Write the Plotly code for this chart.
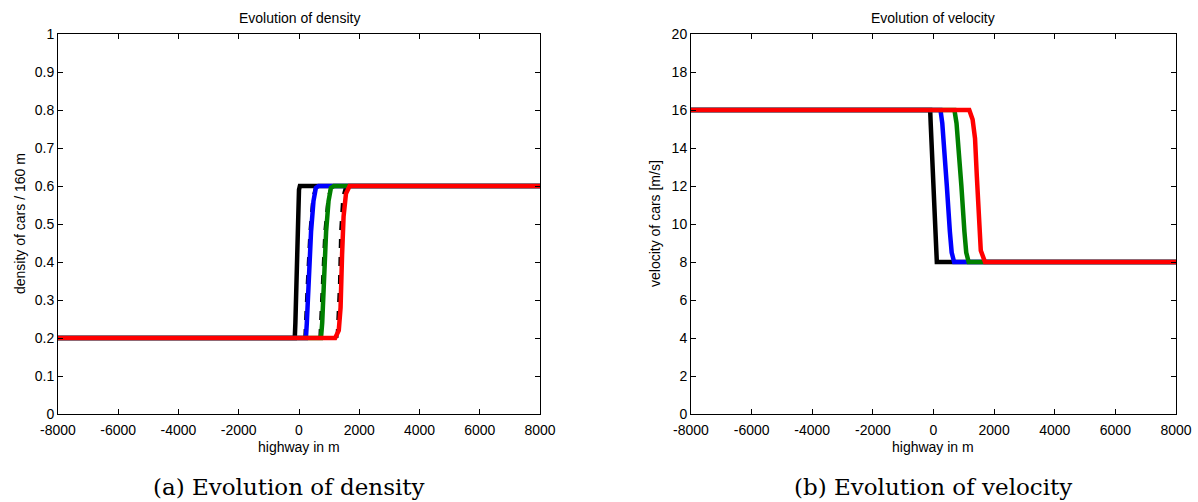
import plotly.graph_objects as go

# ---- density profiles (cars / 160 m) at four successive times ----
dens_black_x = [-8000, -140, -120, -90, -40, 0, 30, 8000]
dens_black_y = [0.2, 0.2, 0.24, 0.35, 0.52, 0.59, 0.6, 0.6]
dens_blue_x = [-8000, 230, 260, 300, 400, 480, 560, 650, 8000]
dens_blue_y = [0.2, 0.2, 0.24, 0.32, 0.48, 0.56, 0.595, 0.6, 0.6]
dens_green_x = [-8000, 730, 770, 810, 900, 980, 1060, 1160, 8000]
dens_green_y = [0.2, 0.2, 0.24, 0.32, 0.48, 0.56, 0.595, 0.6, 0.6]
dens_red_x = [-8000, 1200, 1320, 1380, 1430, 1480, 1560, 1680, 8000]
dens_red_y = [0.2, 0.2, 0.22, 0.28, 0.42, 0.52, 0.58, 0.6, 0.6]

# reference fronts drawn in black, dashed, beneath the coloured profiles
ref_blue_x = [190, 220, 270, 360, 460, 560]
ref_blue_y = [0.2, 0.26, 0.34, 0.48, 0.57, 0.6]
ref_green_x = [690, 725, 765, 855, 965, 1075]
ref_green_y = [0.2, 0.26, 0.34, 0.48, 0.57, 0.6]
ref_red_x = [1260, 1300, 1340, 1380, 1450, 1550]
ref_red_y = [0.2, 0.26, 0.34, 0.48, 0.57, 0.6]

# ---- velocity profiles (m/s) at the same times ----
vel_black_x = [-8000, -110, -90, -40, 20, 80, 110, 8000]
vel_black_y = [16, 16, 15.2, 13.0, 10.5, 8.4, 8, 8]
vel_blue_x = [-8000, 230, 290, 360, 440, 540, 600, 680, 8000]
vel_blue_y = [16, 16, 15.3, 14.0, 12.0, 9.6, 8.5, 8, 8]
vel_green_x = [-8000, 690, 760, 830, 920, 1020, 1080, 1160, 8000]
vel_green_y = [16, 16, 15.3, 14.0, 12.0, 9.6, 8.5, 8, 8]
vel_red_x = [-8000, 1180, 1290, 1370, 1430, 1490, 1560, 1700, 8000]
vel_red_y = [16, 16, 15.5, 14.5, 12.5, 10.0, 8.6, 8, 8]

x_ticks = [-8000, -6000, -4000, -2000, 0, 2000, 4000, 6000, 8000]
dens_ticks = [0, 0.1, 0.2, 0.3, 0.4, 0.5, 0.6, 0.7, 0.8, 0.9, 1]
dens_tick_text = ["0", "0.1", "0.2", "0.3", "0.4", "0.5", "0.6", "0.7", "0.8", "0.9", "1"]
vel_ticks = [0, 2, 4, 6, 8, 10, 12, 14, 16, 18, 20]

LW = 4.5
colors = {"black": "#000000", "blue": "#0000FF", "green": "#008000", "red": "#FF0000"}

fig = go.Figure()

def add(x, y, color, xa, ya, dash="solid", width=LW):
    fig.add_trace(go.Scatter(x=x, y=y, mode="lines", xaxis=xa, yaxis=ya,
                             line=dict(color=color, width=width, dash=dash),
                             showlegend=False, hoverinfo="skip"))

# density panel
add(dens_black_x, dens_black_y, colors["black"], "x", "y")
add(ref_blue_x, ref_blue_y, colors["black"], "x", "y", dash="dash", width=3)
add(ref_green_x, ref_green_y, colors["black"], "x", "y", dash="dash", width=3)
add(ref_red_x, ref_red_y, colors["black"], "x", "y", dash="dash", width=3)
add(dens_blue_x, dens_blue_y, colors["blue"], "x", "y")
add(dens_green_x, dens_green_y, colors["green"], "x", "y")
add(dens_red_x, dens_red_y, colors["red"], "x", "y")

# velocity panel
add(vel_black_x, vel_black_y, colors["black"], "x2", "y2")
add(vel_blue_x, vel_blue_y, colors["blue"], "x2", "y2")
add(vel_green_x, vel_green_y, colors["green"], "x2", "y2")
add(vel_red_x, vel_red_y, colors["red"], "x2", "y2")

W, H = 1198, 502
tick_font = dict(family="Liberation Sans, Arial", size=14, color="#000000")

def xaxis(domain, anchor):
    return dict(domain=domain, anchor=anchor, range=[-8000, 8000], tickvals=x_ticks,
                ticktext=[str(v) for v in x_ticks], ticks="inside", ticklen=5,
                tickcolor="black", showline=True, linecolor="black", linewidth=1,
                mirror="ticks", showgrid=False, zeroline=False, tickfont=tick_font,
                automargin=False, ticklabelstandoff=3)

def yaxis(domain, anchor, rng, vals, text):
    return dict(domain=domain, anchor=anchor, range=rng, tickvals=vals, ticktext=text,
                ticks="inside", ticklen=5, tickcolor="black", showline=True,
                linecolor="black", linewidth=1, mirror="ticks", showgrid=False,
                zeroline=False, tickfont=tick_font, automargin=False)

yd = [(H - 414) / H, (H - 34) / H]
xd1 = [58 / W, 540 / W]
xd2 = [691 / W, 1176 / W]

fig.update_layout(
    width=W, height=H, margin=dict(l=0, r=0, t=0, b=0),
    paper_bgcolor="white", plot_bgcolor="white",
    xaxis=xaxis(xd1, "y"),
    yaxis=yaxis(yd, "x", [0, 1], dens_ticks, dens_tick_text),
    xaxis2=xaxis(xd2, "y2"),
    yaxis2=yaxis(yd, "x2", [0, 20], vel_ticks, [str(v) for v in vel_ticks]),
)

lab_font = dict(family="Liberation Sans, Arial", size=14, color="#000000")
cap_font = dict(family="DejaVu Serif", size=23, color="#000000")

def ann(text, x, y, font, angle=0):
    fig.add_annotation(text=text, x=x / W, y=1 - y / H, xref="paper", yref="paper",
                       showarrow=False, font=font, textangle=angle,
                       xanchor="center", yanchor="middle")

ann("Evolution of density", 299, 18, lab_font)
ann("Evolution of velocity", 933, 18, lab_font)
ann("highway in m", 299, 447, lab_font)
ann("highway in m", 933, 447, lab_font)
ann("density of cars / 160 m", 20, 224, lab_font, angle=-90)
ann("velocity of cars [m/s]", 655, 224, lab_font, angle=-90)
ann("(a) Evolution of density", 289, 487, cap_font)
ann("(b) Evolution of velocity", 933, 487, cap_font)

fig.write_html("out.html")
